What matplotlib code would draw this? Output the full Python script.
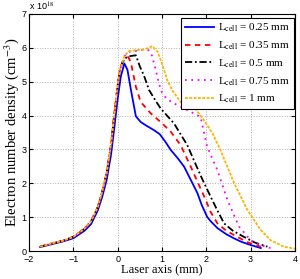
import matplotlib
matplotlib.use('Agg')
import matplotlib.pyplot as plt
import numpy as np

plt.rcParams['mathtext.fontset'] = 'stix'

# Data (density in units of 1e18 cm^-3)
x_rise = [-1.75, -1.5, -1.25, -1.0, -0.75, -0.6, -0.45, -0.35, -0.25, -0.15, -0.08, 0.0, 0.05, 0.1]
y_rise = [0.13, 0.22, 0.3, 0.42, 0.66, 0.88, 1.3, 1.75, 2.3, 3.15, 4.0, 4.9, 5.35, 5.55]

x_025 = [-1.75, -1.5, -1.25, -1.0, -0.75, -0.6, -0.45, -0.35, -0.25, -0.15, -0.08, 0.0, 0.07, 0.15,
         0.22, 0.3, 0.41, 0.52, 0.65, 0.82, 0.95, 1.08, 1.2, 1.35, 1.5, 1.65, 1.8, 1.9, 2.02, 2.1,
         2.25, 2.45, 2.62, 2.8, 3.0, 3.23]
y_025 = [0.12, 0.2, 0.28, 0.38, 0.6, 0.8, 1.2, 1.6, 2.1, 2.85, 3.6, 4.5, 5.15, 5.54,
         5.35, 4.75, 3.98, 3.81, 3.7, 3.57, 3.45, 3.22, 2.98, 2.75, 2.49, 2.1, 1.71, 1.35, 1.01, 0.88,
         0.68, 0.5, 0.38, 0.27, 0.18, 0.09]

x_035 = x_rise + [0.16, 0.24, 0.3, 0.41, 0.52, 0.75, 0.97, 1.2, 1.42, 1.65, 1.8, 1.99, 2.1,
                  2.25, 2.45, 2.7, 2.95, 3.23]
y_035 = y_rise + [5.66, 5.73, 5.55, 4.85, 4.4, 4.06, 3.81, 3.52, 3.13, 2.49, 2.05, 1.5, 1.15,
                  0.82, 0.6, 0.42, 0.25, 0.13]

x_05 = x_rise + [0.15, 0.25, 0.41, 0.5, 0.59, 0.71, 0.85, 0.97, 1.27, 1.57, 1.72, 1.9, 2.1,
                 2.25, 2.4, 2.6, 2.85, 3.1, 3.38]
y_05 = y_rise + [5.68, 5.75, 5.78, 5.45, 5.19, 4.75, 4.45, 4.21, 3.77, 3.13, 2.68, 2.15, 1.6,
                 1.2, 0.82, 0.6, 0.42, 0.25, 0.13]

x_075 = x_rise + [0.15, 0.25, 0.41, 0.6, 0.7, 0.77, 0.86, 0.93, 1.0, 1.1, 1.27, 1.65, 1.87,
                  2.02, 2.25, 2.48, 2.74, 3.0, 3.2, 3.45]
y_075 = y_rise + [5.75, 5.88, 5.91, 5.95, 5.93, 5.78, 5.34, 4.95, 4.68, 4.5, 4.36, 4.11, 3.96,
                  3.08, 2.39, 1.5, 0.72, 0.32, 0.18, 0.09]

x_1 = x_rise + [0.15, 0.25, 0.4, 0.6, 0.7, 0.78, 0.9, 1.0, 1.12, 1.23, 1.42, 1.72, 1.95,
                2.15, 2.32, 2.63, 2.93, 3.23, 3.45, 3.75, 4.0]
y_1 = y_rise + [5.75, 5.9, 5.93, 5.95, 6.0, 6.05, 5.88, 5.54, 5.04, 4.75, 4.4, 4.26, 3.86,
                3.45, 2.98, 2.0, 1.21, 0.62, 0.32, 0.13, 0.07]

labels = [r'L$_{\mathrm{cell}}$ = 0.25 mm', r'L$_{\mathrm{cell}}$ = 0.35 mm',
          r'L$_{\mathrm{cell}}$ = 0.5 mm', r'L$_{\mathrm{cell}}$ = 0.75 mm',
          r'L$_{\mathrm{cell}}$ = 1 mm']

fig = plt.figure(figsize=(3.0, 2.79), dpi=100)
ax = fig.add_axes([0.097, 0.100, 0.886, 0.850])

ax.plot(x_025, y_025, color='#0000ff', lw=1.3, ls='-', label=labels[0])
ax.plot(x_035, y_035, color='#ff0000', lw=1.3, ls=(0, (3, 2.5)), label=labels[1])
ax.plot(x_05, y_05, color='black', lw=1.3, ls=(0, (4, 1.5, 1, 1.5)), label=labels[2])
ax.plot(x_075, y_075, color='#ff00ff', lw=1.3, ls=(0, (1, 2.5)), label=labels[3])
ax.plot(x_1, y_1, color='#ffb400', lw=1.3, ls=(0, (1.6, 0.8)), label=labels[4])

ax.set_xlim(-2, 4)
ax.set_ylim(0, 7)
ax.set_xticks(range(-2, 5))
ax.set_yticks(range(0, 8))
ax.set_xticklabels(['\u22122', '\u22121', '0', '1', '2', '3', '4'])
ax.tick_params(direction='in', top=True, right=True, labelsize=6.5, length=3, pad=2)
ax.tick_params(axis='x', pad=3)
for lab in ax.get_xticklabels() + ax.get_yticklabels():
    lab.set_family('Liberation Sans')
ax.grid(True, ls=':', color='#b0b0b0', lw=0.7)

ax.set_xlabel('Laser axis (mm)', family='Liberation Serif', fontsize=9, labelpad=0)
ax.set_ylabel('Electron number density (cm$^{-3}$)', family='Liberation Serif', fontsize=10.5, labelpad=0)
ax.text(0.0, 1.005, r'x 10$^{18}$', transform=ax.transAxes, fontsize=6.5,
        family='Liberation Sans', ha='left', va='bottom')

leg = ax.legend(loc='upper right', bbox_to_anchor=(0.997, 0.983), borderaxespad=0,
                handlelength=2.6, fancybox=False, edgecolor='black', framealpha=1,
                labelspacing=0.47, borderpad=0.35, handletextpad=0.4,
                prop={'family': 'Liberation Serif', 'size': 8})
leg.get_frame().set_linewidth(0.8)

fig.savefig('out.png', dpi=100)
plt.close(fig)
